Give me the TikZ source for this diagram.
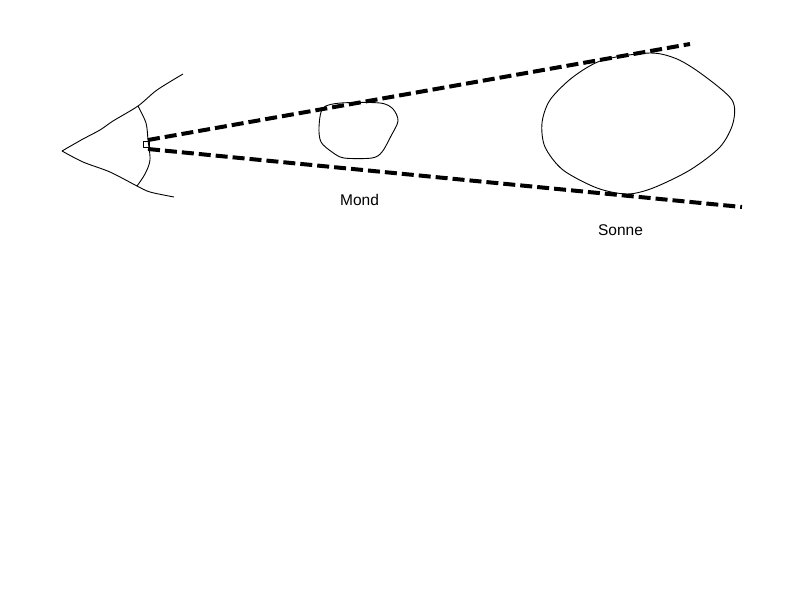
\documentclass[tikz,border=0pt]{standalone}
\usepackage{fontspec}
\setmainfont{Liberation Sans}
\begin{document}
\begin{tikzpicture}[x=1pt,y=-1pt,
  thin line/.style={line width=0.9pt, line join=round},
  sight/.style={line width=4pt, dash pattern=on 12pt off 5pt},
  label/.style={font=\fontsize{15.5}{18}\selectfont, inner sep=0pt}]
\useasboundingbox[fill=white] (0,0) rectangle (800,600);
% eye
\draw[thin line] plot[smooth] coordinates {(62,151) (83,139) (100,130) (113,121) (138,106) (157,90) (183,74)};
\draw[thin line] plot[smooth] coordinates {(62,151) (83,162) (110,172) (137,186) (150,192) (174,197)};
\draw[thin line] plot[smooth] coordinates {(138,106) (146,123) (148,140) (150,160) (145,174) (137,186)};
\draw[thin line] (143,141) rectangle (149,147);
\coordinate (eyeA) at (148,140);
\coordinate (eyeB) at (148,149);
\coordinate (endA) at (690,44);
\coordinate (endB) at (742,207);
% moon
\draw[thin line] plot[smooth cycle, tension=0.5] coordinates {(341,103) (323,108) (319,127) (321,142) (332,152) (344,158) (372,158) (382,152) (391,136) (398,121) (393,109) (380,103)};
% sun
\draw[thin line] plot[smooth cycle, tension=0.5] coordinates {(650,53) (677,59) (703,75) (732,100) (733,123) (720,147) (690,170) (653,188) (627,194) (597,188) (563,170) (545,147) (542,123) (550,100) (573,77) (603,60)};
% lines of sight
\draw[sight] (eyeA) -- (endA);
\draw[sight] (eyeB) -- (endB);
\node[label] (mond) at (359.5,200) {Mond};
\node[label] (sonne) at (620.5,230) {Sonne};
\end{tikzpicture}
\end{document}
